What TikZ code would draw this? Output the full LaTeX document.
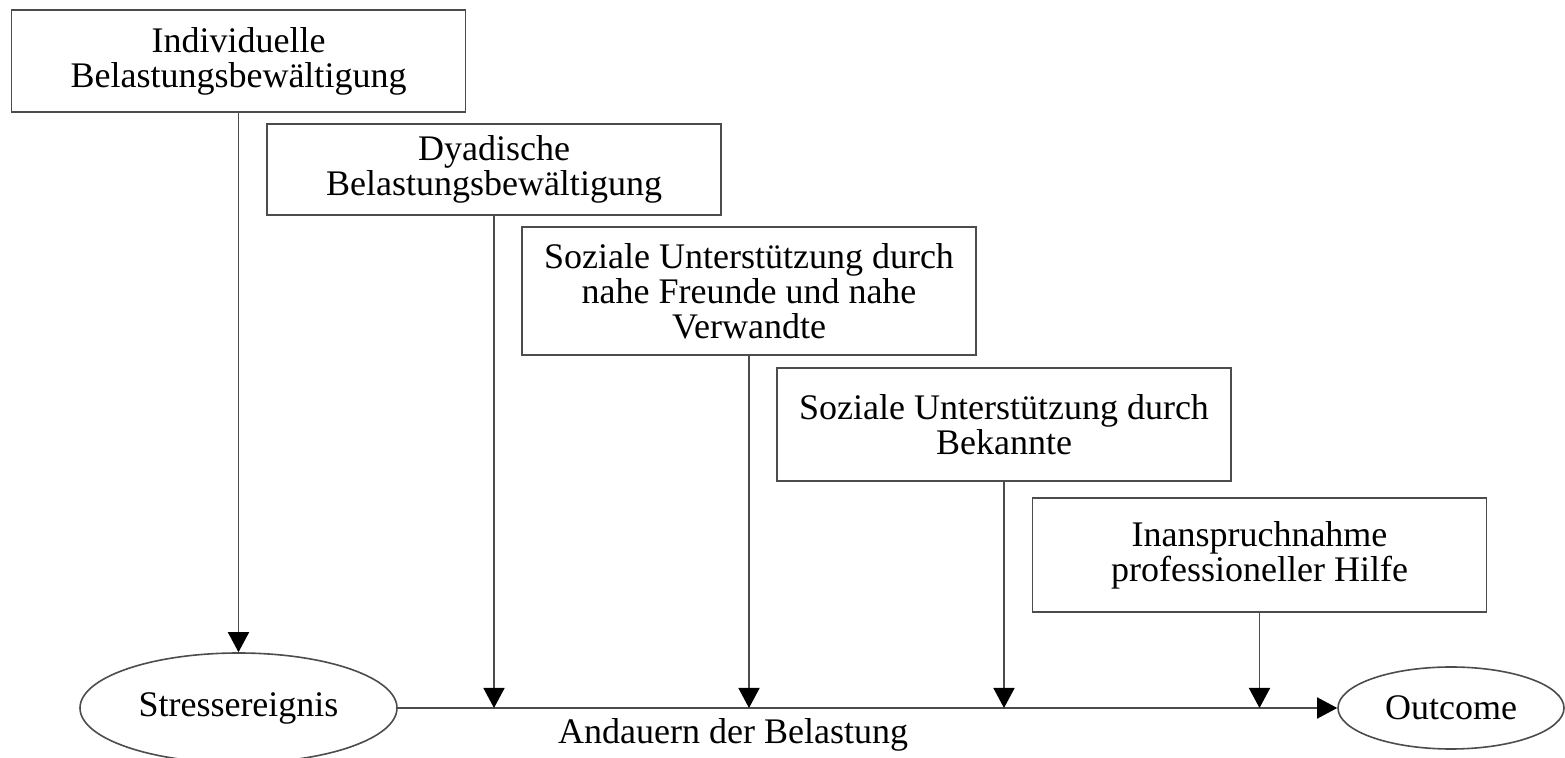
\documentclass[tikz,border=0pt]{standalone}
\usepackage{fontspec}
\setmainfont{Liberation Serif}
\usetikzlibrary{arrows.meta,shapes.geometric}

\begin{document}
\begin{tikzpicture}[x=0.5pt, y=-0.5pt,
    font=\fontsize{18}{17.5}\selectfont,
    stufe/.style={draw=black!70, line width=0.8pt, rectangle, align=center, minimum width=227pt, inner sep=0pt},
    ereignis/.style={draw=black!70, line width=0.8pt, ellipse, inner sep=0pt},
    pfeil/.style={draw=black!70, line width=0.8pt, -{Triangle[length=10pt, width=10.5pt, color=black]}}]
    \useasboundingbox (0,0) rectangle (1565,758);
    % Bewaeltigungsstufen
    \node[stufe, minimum height=51pt] (indiv) at (238.5,61) {Individuelle\\Belastungsbewältigung};
    \node[stufe, minimum height=45.5pt] (dyad) at (494,169.5) {Dyadische\\Belastungsbewältigung};
    \node[stufe, minimum height=64pt] (freunde) at (749,291) {Soziale Unterstützung durch\\nahe Freunde und nahe\\Verwandte};
    \node[stufe, minimum height=56.5pt] (bekannte) at (1004,424.5) {Soziale Unterstützung durch\\Bekannte};
    \node[stufe, minimum height=57pt] (hilfe) at (1259.5,555) {Inanspruchnahme\\professioneller Hilfe};
    % Ereignis und Ergebnis
    \node[ereignis, minimum width=317pt/2, minimum height=55pt] (stress) at (238.5,708) {Stressereignis};
    \node[ereignis, minimum width=113pt, minimum height=41pt] (outcome) at (1451,708) {Outcome};
    \draw[pfeil] (stress.east) -- node[pos=0.357, below=5pt, inner sep=0pt] (dauer) {Andauern der Belastung} (outcome.west);
    \draw[pfeil] (indiv.south) -- (stress.north);
    \draw[pfeil] (dyad.south) -- (dyad.south |- stress.east);
    \draw[pfeil] (freunde.south) -- (freunde.south |- stress.east);
    \draw[pfeil] (bekannte.south) -- (bekannte.south |- stress.east);
    \draw[pfeil] (hilfe.south) -- (hilfe.south |- stress.east);
\end{tikzpicture}
\end{document}
